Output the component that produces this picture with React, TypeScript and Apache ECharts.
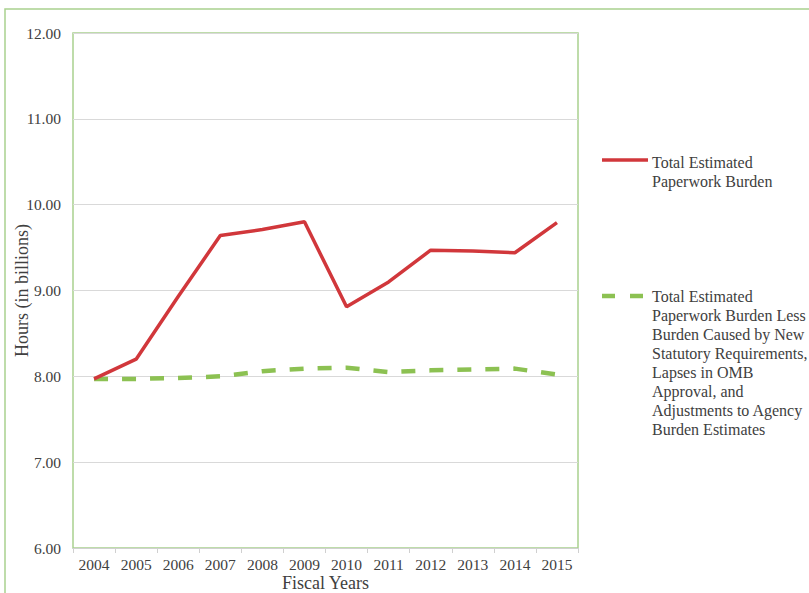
import React, { useEffect, useRef } from "react";
import * as echarts from "echarts";

const years = ["2004", "2005", "2006", "2007", "2008", "2009", "2010", "2011", "2012", "2013", "2014", "2015"];
const totalBurden = [7.97, 8.2, 8.93, 9.64, 9.71, 9.8, 8.81, 9.1, 9.47, 9.46, 9.44, 9.79];
const adjustedBurden = [7.97, 7.97, 7.98, 8.0, 8.06, 8.09, 8.1, 8.05, 8.07, 8.08, 8.09, 8.02];
const seriesNames = [
  "Total Estimated\nPaperwork Burden",
  "Total Estimated\nPaperwork Burden Less\nBurden Caused by New\nStatutory Requirements,\nLapses in OMB\nApproval, and\nAdjustments to Agency\nBurden Estimates",
];

const FONT = "'Liberation Serif', 'Times New Roman', serif";
const TEXT = "#404040";
const GREEN_BORDER = "#a9d18e";
const RED = "#d1373b";
const GREEN = "#8cc152";

export default function App() {
  const ref = useRef<HTMLDivElement>(null);
  useEffect(() => {
    if (!ref.current) return;
    const chart = echarts.init(ref.current, undefined, { renderer: "svg" });
    chart.setOption({
      animation: false,
      backgroundColor: "#ffffff",
      grid: {
        left: 73,
        right: 231,
        top: 33,
        bottom: 45,
        show: true,
        borderColor: GREEN_BORDER,
        borderWidth: 1.5,
        containLabel: false,
        outerBoundsMode: "none",
      },
      xAxis: {
        type: "category",
        data: years,
        boundaryGap: true,
        name: "Fiscal Years",
        nameLocation: "middle",
        nameGap: 26,
        nameMoveOverlap: false,
        nameTextStyle: { fontFamily: FONT, fontSize: 18, color: TEXT },
        axisLine: { show: true, lineStyle: { color: "#d0d0d0", width: 1 } },
        axisTick: { show: true, alignWithLabel: false, length: 5, lineStyle: { color: "#d0d0d0" } },
        axisLabel: { fontFamily: FONT, fontSize: 15.5, color: TEXT, margin: 8 },
      },
      yAxis: {
        type: "value",
        min: 6,
        max: 12,
        interval: 1,
        name: "Hours (in billions)",
        nameLocation: "middle",
        nameRotate: 90,
        nameGap: 42,
        nameMoveOverlap: false,
        nameTextStyle: { fontFamily: FONT, fontSize: 18, color: TEXT },
        axisLine: { show: false },
        axisTick: { show: false },
        axisLabel: {
          fontFamily: FONT,
          fontSize: 15.5,
          color: TEXT,
          margin: 12,
          formatter: (v: number) => v.toFixed(2),
        },
        splitLine: { show: true, lineStyle: { color: "#d9d9d9", width: 1 } },
      },
      series: [
        {
          name: seriesNames[0],
          type: "line",
          data: totalBurden,
          symbol: "none",
          lineStyle: { color: RED, width: 3.5 },
          z: 3,
        },
        {
          name: seriesNames[1],
          type: "line",
          data: adjustedBurden,
          symbol: "none",
          lineStyle: { color: GREEN, width: 4.5, type: [14, 14] },
          z: 2,
        },
      ],
      graphic: [
        {
          type: "rect",
          shape: { x: 5, y: 9, width: 900, height: 700 },
          style: { fill: "none", stroke: GREEN_BORDER, lineWidth: 1.5 },
          silent: true,
        },
        {
          type: "line",
          shape: { x1: 602, y1: 160, x2: 648, y2: 160 },
          style: { stroke: RED, lineWidth: 3.5 },
        },
        {
          type: "text",
          x: 652,
          y: 152.5,
          style: {
            text: seriesNames[0],
            fontFamily: FONT,
            fontSize: 16,
            lineHeight: 19,
            fill: TEXT,
            textVerticalAlign: "top",
          },
        },
        {
          type: "line",
          shape: { x1: 602, y1: 296, x2: 648, y2: 296 },
          style: { stroke: GREEN, lineWidth: 4.5, lineDash: [13, 15] },
        },
        {
          type: "text",
          x: 652,
          y: 286.5,
          style: {
            text: seriesNames[1],
            fontFamily: FONT,
            fontSize: 16,
            lineHeight: 19,
            fill: TEXT,
            textVerticalAlign: "top",
          },
        },
      ],
    });
    return () => chart.dispose();
  }, []);
  return (
    <div
      ref={ref}
      style={{ position: "fixed", left: 0, top: 0, width: 809, height: 593 }}
    />
  );
}
